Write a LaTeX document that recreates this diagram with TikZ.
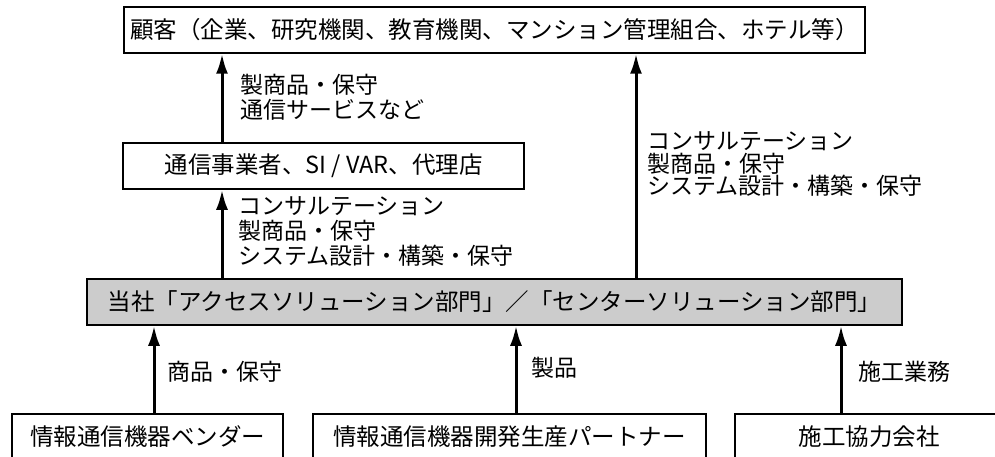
\documentclass[tikz,border=0pt]{standalone}
\usepackage{fontspec}
\setmainfont{Noto Sans CJK JP}
\usetikzlibrary{arrows.meta}
\definecolor{boxgray}{RGB}{204,204,204}
\begin{document}
\begin{tikzpicture}[x=1pt,y=-1pt,
  box/.style={draw=black,line width=1.5pt,rectangle,inner sep=0pt,minimum height=46pt,
    font=\fontsize{23.5}{25}\selectfont},
  lab/.style={anchor=west,align=left,inner sep=0pt,font=\fontsize{23}{25}\selectfont},
  arr/.style={line width=3pt,-{Latex[length=20pt,width=12pt]}}]
\useasboundingbox (0,0) rectangle (995,457);
\clip (0,0) rectangle (995,457);
\fill[white] (0,0) rectangle (995,457);
% boxes
\node[box,minimum width=741pt] (top) at (494.5,30) {顧客（企業、研究機関、教育機関、マンション管理組合、ホテル等）};
\node[box,minimum width=401pt] (si) at (323.5,166) {通信事業者、SI / VAR、代理店};
\node[box,fill=boxgray,minimum width=815pt] (co) at (494.5,302) {当社「アクセスソリューション部門」／「センターソリューション部門」};
\node[box,minimum width=271pt] (b1) at (147.5,437) {情報通信機器ベンダー};
\node[box,minimum width=393pt] (b2) at (509.5,437) {情報通信機器開発生産パートナー};
\node[box,minimum width=268pt] (b3) at (869,437) {施工協力会社};
% arrow columns
\coordinate (x1) at (222,0);
\coordinate (x3) at (636,0);
\coordinate (x4) at (154,0);
\coordinate (x5) at (516,0);
\coordinate (x6) at (841,0);
\draw[arr] (x1 |- si.north) -- (x1 |- top.south);
\draw[arr] (x1 |- co.north) -- (x1 |- si.south);
\draw[arr] (x3 |- co.north) -- (x3 |- top.south);
\draw[arr] (x4 |- b1.north) -- (x4 |- co.south);
\draw[arr] (x5 |- b2.north) -- (x5 |- co.south);
\draw[arr] (x6 |- b3.north) -- (x6 |- co.south);
% labels
\node[lab] (l1) at (240,97.5) {製商品・保守\\通信サービスなど};
\node[lab] (l2) at (238,231) {コンサルテーション\\製商品・保守\\システム設計・構築・保守};
\node[lab,font=\fontsize{23}{22.5}\selectfont] (l3) at (647,164) {コンサルテーション\\製商品・保守\\システム設計・構築・保守};
\node[lab] (l4) at (167,372) {商品・保守};
\node[lab] (l5) at (531,368) {製品};
\node[lab] (l6) at (858,372) {施工業務};
\end{tikzpicture}
\end{document}
